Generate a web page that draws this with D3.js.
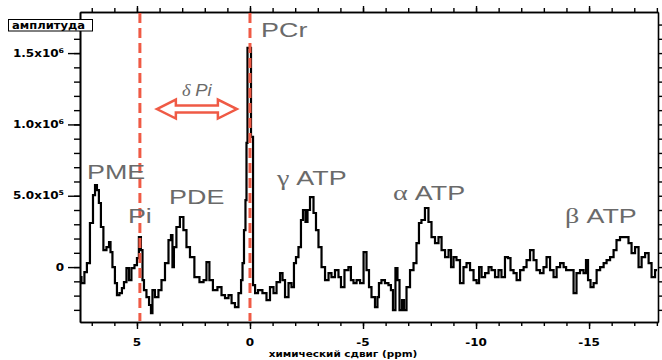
<!DOCTYPE html>
<html>
<head>
<meta charset="utf-8">
<script src="https://cdn.jsdelivr.net/npm/d3@7"></script>
<style>
  body { margin: 0; background: #fff; }
  svg { display: block; }
</style>
</head>
<body>
<svg id="chart" width="662" height="360"></svg>
<script>
// chemical shift (ppm) left to right
var ppm = [7.52, 7.39, 7.26, 7.17, 6.99, 6.90, 6.81, 6.73, 6.64, 6.55, 6.42, 6.28, 6.19, 6.15, 6.02,
  5.93, 5.84, 5.71, 5.62, 5.53, 5.40, 5.31, 5.18, 5.04, 4.96, 4.87, 4.78, 4.73, 4.65, 4.51,
  4.42, 4.34, 4.29, 4.12, 3.98, 3.85, 3.67, 3.54, 3.45, 3.41, 3.32, 3.19, 3.01, 2.88, 2.74,
  2.57, 2.35, 2.12, 1.99, 1.86, 1.73, 1.55, 1.33, 1.19, 1.02, 0.88, 0.75, 0.58, 0.44, 0.35,
  0.31, 0.22, 0.18, 0.13, 0.09, 0.00, -0.09, -0.18, -0.27, -0.44, -0.66, -0.80, -0.97, -1.11, -1.24,
  -1.42, -1.46, -1.64, -1.77, -1.90, -1.99, -2.08, -2.21, -2.30, -2.39, -2.52, -2.57, -2.74, -2.88, -2.96,
  -3.10, -3.23, -3.41, -3.54, -3.67, -3.85, -3.98, -4.07, -4.29, -4.42, -4.51, -4.65, -4.78, -4.96, -5.09,
  -5.22, -5.31, -5.44, -5.62, -5.66, -5.75, -5.88, -6.06, -6.19, -6.28, -6.37, -6.50, -6.55, -6.68, -6.77,
  -6.86, -6.99, -7.17, -7.30, -7.43, -7.52, -7.65, -7.83, -7.96, -8.10, -8.27, -8.41, -8.54, -8.72, -8.85,
  -8.94, -9.07, -9.20, -9.38, -9.51, -9.65, -9.82, -9.96, -10.09, -10.18, -10.31, -10.49, -10.62, -10.75, -10.93,
  -11.06, -11.19, -11.37, -11.46, -11.59, -11.73, -11.86, -12.04, -12.17, -12.30, -12.48, -12.61, -12.74, -12.92, -13.05,
  -13.19, -13.36, -13.50, -13.63, -13.81, -13.94, -14.03, -14.25, -14.38, -14.51, -14.69, -14.82, -14.91, -15.00, -15.13,
  -15.27, -15.40, -15.58, -15.71, -15.84, -16.02, -16.15, -16.28, -16.46, -16.68, -16.81, -16.95, -17.12, -17.26, -17.39,
  -17.57, -17.70, -17.83, -18.01];

// amplitude in units of 10^5
var amp1e5 = [-0.70, -1.12, -0.35, 0.28, 3.09, 5.05, 5.75, 5.40, 4.49, 2.81, 1.19, 1.40, 1.75, 1.05, 0.00,
  -1.12, -1.96, -1.82, -1.47, -1.05, -0.07, -0.91, -0.07, 0.14, 0.63, 2.10, 1.19, -0.91, -1.61, -2.10,
  -2.66, -3.23, -1.61, -2.10, -1.61, -0.91, 0.28, 1.89, 2.24, 0.00, 1.40, 2.81, 3.51, 2.59, 1.40,
  0.70, -0.70, -1.05, -0.91, 0.35, -0.91, -1.61, -1.40, -1.96, -2.17, -1.96, -2.52, -2.81, -1.82, -0.91,
  0.28, 2.59, 4.70, 8.70, 15.36, 15.36, 9.12, -1.26, -1.82, -1.61, -1.82, -2.31, -1.40, -1.82, -1.05,
  -0.42, -0.91, -2.10, -1.12, -1.40, 0.28, 0.70, 1.40, 3.30, 4.00, 3.16, 4.00, 4.91, 3.79, 2.59,
  1.40, 0.00, -0.91, -0.42, -0.70, -0.21, -0.70, -1.40, -0.21, 0.00, -0.91, -1.12, -0.91, -1.12, 1.05,
  -0.21, -1.40, -2.10, -2.81, -2.10, -1.12, -0.91, -1.12, -1.26, -1.61, -3.02, -0.07, -0.91, -3.02, -2.31,
  -3.02, -1.40, -0.21, 0.28, 1.68, 3.09, 3.30, 4.14, 3.16, 2.10, 1.68, 2.10, 1.19, 0.70, 1.19,
  0.00, 0.70, 0.49, -1.12, 0.00, 0.28, -0.21, -0.91, -1.12, 0.00, -0.70, -0.42, 0.00, -0.21, -0.70,
  -0.21, -0.70, 0.70, 0.63, -0.21, -0.42, -0.91, -0.21, 0.00, 0.49, 1.19, 0.49, -0.21, -0.42, 0.00,
  0.70, -0.21, -0.70, 0.00, 0.28, 0.00, -0.21, -0.21, -1.82, -0.42, -0.21, -0.42, 0.49, -0.91, -1.40,
  -1.12, -0.21, 0.00, 0.28, 0.49, 0.70, 1.19, 1.89, 2.10, 2.10, 1.68, 0.98, 1.40, 0.00, 0.70,
  0.98, 0.28, -0.70, -0.21];

var xMajorTicks = [5, 0, -5, -10, -15];
var xTickLabels = ["5", "0", "-5", "-10", "-15"];
var yMajorTicks = [0, 5e5, 1e6, 1.5e6];
var yTickMantissa = ["0", "5.0x10", "1.0x10", "1.5x10"];
var yTickExponent = ["", "5", "6", "6"];

// dashed markers: Pi and PCr positions
var markerPpm = [4.87, 0];

// peak names (greek prefix + name), anchored at the left end of the baseline (ppm, amplitude)
var peakGreek = ["", "", "", "", "\u03b3 ", "\u03b1 ", "\u03b2 "];
var peakNames = ["PME", "Pi", "PDE", "PCr", "ATP", "ATP", "ATP"];
var peakNamePpm = [7.21, 5.40, 3.58, -0.49, -1.19, -6.33, -13.94];
var peakNameAmp = [6.17e5, 3.09e5, 4.42e5, 16.13e5, 5.75e5, 4.70e5, 3.09e5];

// delta Pi arrow between the two markers
var arrowFrom = 4.12, arrowTo = 0.58, arrowAmp = 11.08e5;

var plotLeft = 80, plotRight = 658, plotTop = 12, plotBottom = 322;
var stretch = 1.28;   // the original lettering is wide
var red = "#ef5a45", grey = "#6a6a6a";

var svg = d3.select("#chart");

var x = d3.scaleLinear().domain([7.52, -18.05]).range([plotLeft, plotRight]);
var y = d3.scaleLinear().domain([-3.85e5, 1.788e6]).range([plotBottom, plotTop]);

var data = ppm.map(function(p, i) { return { ppm: p, amp: amp1e5[i] * 1e5 }; });

// ---- ticks ----
var xMinor = d3.range(-18, 8, 1);
var yMinor = d3.range(-3e5, 1.75e6, 1e5);

function styleAxis(g) {
  g.selectAll("path").attr("stroke", "#000").attr("stroke-width", 1.6);
  g.selectAll("line").attr("stroke", "#000").attr("stroke-width", 1.4);
}

svg.append("g").attr("transform", "translate(0," + plotBottom + ")")
  .call(d3.axisBottom(x).tickValues(xMinor).tickSize(4).tickSizeOuter(0).tickFormat(""))
  .call(styleAxis);
svg.append("g").attr("transform", "translate(0," + plotBottom + ")")
  .call(d3.axisBottom(x).tickValues(xMajorTicks).tickSize(7).tickSizeOuter(0).tickFormat(""))
  .call(styleAxis);
svg.append("g").attr("transform", "translate(0," + plotTop + ")")
  .call(d3.axisTop(x).tickValues(xMinor).tickSize(4).tickSizeOuter(0).tickFormat(""))
  .call(styleAxis);
svg.append("g").attr("transform", "translate(0," + plotTop + ")")
  .call(d3.axisTop(x).tickValues(xMajorTicks).tickSize(6).tickSizeOuter(0).tickFormat(""))
  .call(styleAxis);
svg.append("g").attr("transform", "translate(" + plotLeft + ",0)")
  .call(d3.axisLeft(y).tickValues(yMinor).tickSize(6).tickSizeOuter(0).tickFormat(""))
  .call(styleAxis);
svg.append("g").attr("transform", "translate(" + plotLeft + ",0)")
  .call(d3.axisLeft(y).tickValues(yMajorTicks).tickSize(12).tickSizeOuter(0).tickFormat(""))
  .call(styleAxis);
svg.append("g").attr("transform", "translate(" + plotRight + ",0)")
  .call(d3.axisRight(y).tickValues(yMinor).tickSize(5).tickSizeOuter(0).tickFormat(""))
  .call(styleAxis);

// ---- stretched text helper ----
function wideText(parent, px, py, anchor, sx) {
  return parent.append("text")
    .attr("transform", "translate(" + px + "," + py + ") scale(" + sx + ",1)")
    .attr("text-anchor", anchor);
}

// x tick labels
xMajorTicks.forEach(function(v, i) {
  wideText(svg, x(v), 346, "middle", 1.2)
    .attr("font-family", "DejaVu Sans").attr("font-weight", "bold").attr("font-size", 10)
    .text(xTickLabels[i]);
});

// y tick labels with superscript exponents
yMajorTicks.forEach(function(v, i) {
  var t = wideText(svg, 64, y(v) + 3.5, "end", 1.2)
    .attr("font-family", "DejaVu Sans").attr("font-weight", "bold").attr("font-size", 10);
  t.append("tspan").text(yTickMantissa[i]);
  if (yTickExponent[i]) {
    t.append("tspan").attr("dy", -4).attr("font-size", 6.5).text(yTickExponent[i]);
  }
});

// x axis title
wideText(svg, 343, 357, "middle", 1.1)
  .attr("font-family", "DejaVu Sans").attr("font-weight", "bold").attr("font-size", 9.5)
  .text("химический сдвиг (ppm)");

// y axis title in a box
svg.append("rect").attr("x", 8.5).attr("y", 19.5).attr("width", 84).attr("height", 11.5)
  .attr("fill", "#fff").attr("stroke", "#000").attr("stroke-width", 1);
wideText(svg, 12, 28.5, "start", 1.05)
  .attr("font-family", "DejaVu Sans").attr("font-weight", "bold").attr("font-size", 11)
  .text("амплитуда");

// ---- spectrum ----
var line = d3.line()
  .x(function(d) { return x(d.ppm); })
  .y(function(d) { return y(d.amp); })
  .curve(d3.curveStep);

svg.append("path")
  .datum(data)
  .attr("fill", "none")
  .attr("stroke", "#000")
  .attr("stroke-width", 2.2)
  .attr("stroke-linejoin", "miter")
  .attr("d", line);

// ---- dashed markers ----
svg.selectAll("line.marker").data(markerPpm).enter()
  .append("line").classed("marker", true)
  .attr("x1", function(d) { return x(d); })
  .attr("x2", function(d) { return x(d); })
  .attr("y1", plotTop + 1)
  .attr("y2", plotBottom - 1)
  .attr("stroke", red)
  .attr("stroke-width", 3)
  .attr("stroke-dasharray", "10,5");

// ---- delta Pi arrow ----
var ax0 = x(arrowFrom), ax1 = x(arrowTo), ay = y(arrowAmp);
var head = 19, hh = 9.5, sh = 3.5;
var arrowPts = [
  [ax0, ay], [ax0 + head, ay - hh], [ax0 + head, ay - sh], [ax1 - head, ay - sh],
  [ax1 - head, ay - hh], [ax1, ay], [ax1 - head, ay + hh], [ax1 - head, ay + sh],
  [ax0 + head, ay + sh], [ax0 + head, ay + hh]
];
svg.append("path")
  .attr("d", d3.line()(arrowPts) + "Z")
  .attr("fill", "#fff")
  .attr("stroke", red)
  .attr("stroke-width", 2.5)
  .attr("stroke-linejoin", "miter");

var dp = wideText(svg, (ax0 + ax1) / 2, ay - 13, "middle", 1.15)
  .attr("font-family", "Liberation Sans").attr("font-style", "italic").attr("font-size", 16)
  .attr("fill", grey);
dp.append("tspan").attr("font-family", "Liberation Serif").text("\u03b4 ");
dp.append("tspan").text("Pi");

// ---- peak names ----
peakNames.forEach(function(name, i) {
  var t = wideText(svg, x(peakNamePpm[i]), y(peakNameAmp[i]), "start", stretch)
    .attr("font-family", "Liberation Sans").attr("font-size", 21)
    .attr("fill", grey);
  if (peakGreek[i]) {
    t.append("tspan").attr("font-family", "Liberation Serif").attr("font-size", 22).text(peakGreek[i]);
  }
  t.append("tspan").text(name);
});
</script>
</body>
</html>
